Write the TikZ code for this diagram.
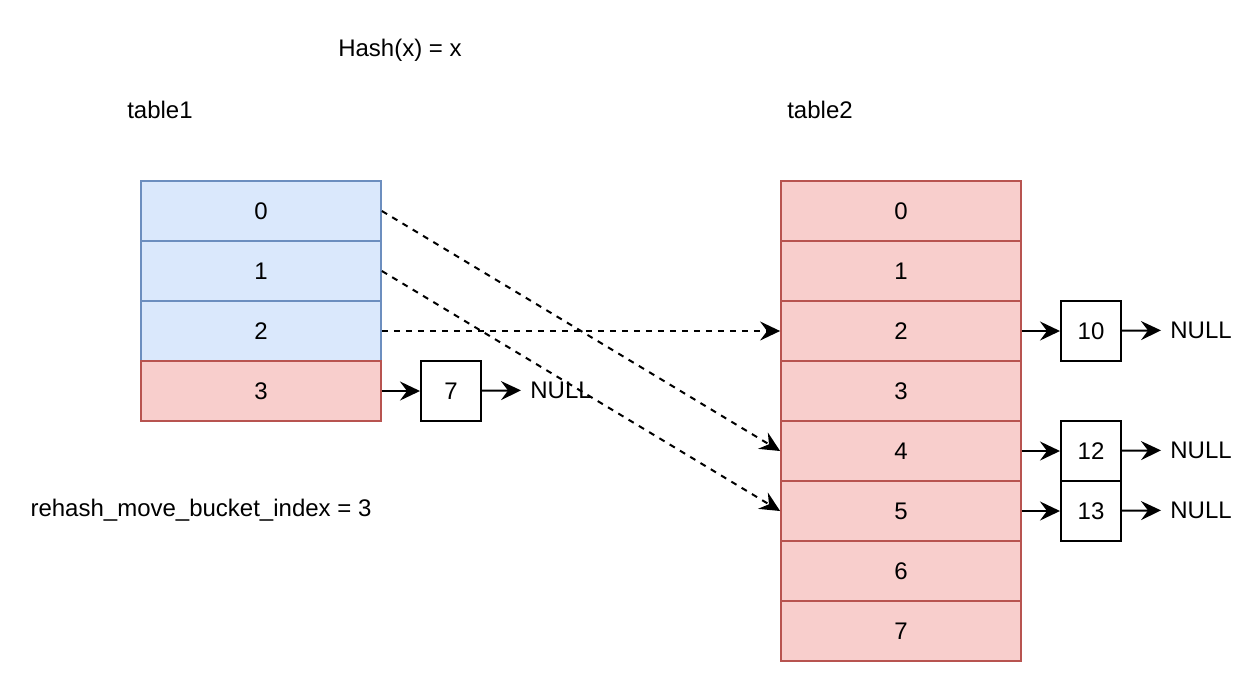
\documentclass[tikz,border=0pt]{standalone}
\usepackage{fontspec}
\setmainfont{Liberation Sans}
\usetikzlibrary{positioning,arrows.meta}

\definecolor{bluefill}{HTML}{DAE8FC}
\definecolor{bluedraw}{HTML}{6C8EBF}
\definecolor{redfill}{HTML}{F8CECC}
\definecolor{reddraw}{HTML}{B85450}

\begin{document}
\begin{tikzpicture}[x=0.5pt,y=-0.5pt,
  font=\fontsize{12}{14}\selectfont,
  cell/.style={draw, line width=0.9pt, minimum width=120pt, minimum height=30pt, inner sep=0pt},
  bluecell/.style={cell, fill=bluefill, draw=bluedraw},
  redcell/.style={cell, fill=redfill, draw=reddraw},
  listbox/.style={draw, line width=1pt, minimum width=30pt, minimum height=30pt, inner sep=0pt},
  nulltext/.style={anchor=west, inner sep=4.5pt},
  arr/.style={line width=1pt, -{Stealth[length=10pt, width=9.5pt, inset=3.5pt]}},
  darr/.style={arr, dash pattern=on 3pt off 3pt}]
 		\useasboundingbox (0,0) rectangle (1252,682);
 		
 		% Labels
 		\node (hash) at (400,50) {Hash(x) = x};
 		\node (lab1) at (160,110) {table1};
 		\node (lab2) at (820,110) {table2};
 		\node (idx) at (201,510) {rehash\_move\_bucket\_index = 3};
 		
 		% table1
 		\foreach \i in {0,...,2}
 		  \node[bluecell] (ta\i) at (261,{211+60*\i}) {\i};
 		\node[redcell] (ta3) at (261,391) {3};
 		
 		% table2
 		\foreach \i in {0,...,7}
 		  \node[redcell] (tb\i) at (901,{211+60*\i}) {\i};
 		
 		% Chains
 		\node[listbox] (n7) at (451,391) {7};
 		\node[listbox] (n10) at (1091,331) {10};
 		\node[listbox] (n12) at (1091,451) {12};
 		\node[listbox] (n13) at (1091,511) {13};
 		
 		\node[nulltext] (null7) at (521,390) {NULL};
 		\node[nulltext] (null10) at (1161,330) {NULL};
 		\node[nulltext] (null12) at (1161,450) {NULL};
 		\node[nulltext] (null13) at (1161,510) {NULL};
 		
 		\draw[arr] (ta3) -- (n7);
 		\draw[arr] (n7) -- (null7);
 		\draw[arr] (tb2) -- (n10);
 		\draw[arr] (n10) -- (null10);
 		\draw[arr] (tb4) -- (n12);
 		\draw[arr] (n12) -- (null12);
 		\draw[arr] (tb5) -- (n13);
 		\draw[arr] (n13) -- (null13);
 		
 		% Moves to table2
 		\draw[darr] (ta0.east) -- (tb4.west);
 		\draw[darr] (ta1.east) -- (tb5.west);
 		\draw[darr] (ta2.east) -- (tb2.west);
 		
 	\end{tikzpicture}
\end{document}
